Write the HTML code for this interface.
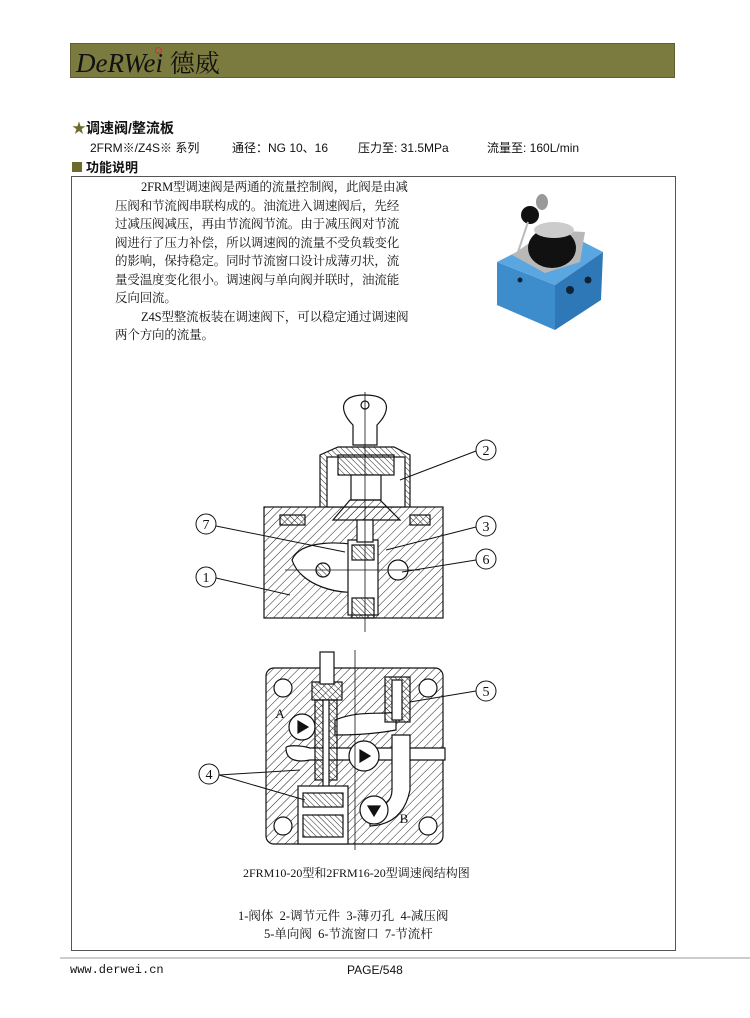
<!DOCTYPE html>
<html><head><meta charset="utf-8"><style>
body{margin:0;width:750px;height:1018px;background:#fff;position:relative;overflow:hidden;font-family:"Liberation Sans","Noto Sans CJK SC",sans-serif}
.a{position:absolute;white-space:nowrap}
.p{position:absolute;left:115px;font-family:"Liberation Serif","Noto Serif CJK SC",serif;font-size:12.5px;letter-spacing:-0.15px;color:#111;line-height:16px}
</style></head><body>
<div class="a" style="left:70px;top:43px;width:605px;height:35px;background:#7b7a3f;border:1px solid #5f5e2e;box-sizing:border-box"></div>
<div class="a" style="left:76px;top:44px;font-family:'Liberation Serif',serif;font-style:italic;font-size:27px;color:#111">DeRWei <span style="font-family:'Noto Serif CJK SC',serif;font-style:normal;font-size:25px">德威</span></div>
<div class="a" style="left:155px;top:47px;width:5px;height:5px;border:1px solid #c33;border-radius:50%"></div>
<div class="a" style="left:72px;top:118px;font-size:14px;font-weight:bold;color:#111"><span style="color:#6d6b2c">★</span>调速阀/整流板</div>
<div class="a" style="left:90px;top:139px;font-size:12px;color:#111">2FRM※/Z4S※ 系列</div>
<div class="a" style="left:232px;top:139px;font-size:12px;color:#111">通径：NG 10、16</div>
<div class="a" style="left:358px;top:139px;font-size:12px;color:#111">压力至: 31.5MPa</div>
<div class="a" style="left:487px;top:139px;font-size:12px;color:#111">流量至: 160L/min</div>
<div class="a" style="left:72px;top:157px;font-size:13px;font-weight:bold;color:#111"><span style="display:inline-block;width:10px;height:10px;background:#6d6b2c;margin-right:4px"></span>功能说明</div>
<div class="a" style="left:71px;top:176px;width:605px;height:775px;border:1px solid #555;box-sizing:border-box"></div>
<div class="p" style="top:179px;left:141px">2FRM型调速阀是两通的流量控制阀，此阀是由减</div>
<div class="p" style="top:198px">压阀和节流阀串联构成的。油流进入调速阀后，先经</div>
<div class="p" style="top:216px">过减压阀减压，再由节流阀节流。由于减压阀对节流</div>
<div class="p" style="top:235px">阀进行了压力补偿，所以调速阀的流量不受负载变化</div>
<div class="p" style="top:253px">的影响，保持稳定。同时节流窗口设计成薄刃状，流</div>
<div class="p" style="top:272px">量受温度变化很小。调速阀与单向阀并联时，油流能</div>
<div class="p" style="top:290px">反向回流。</div>
<div class="p" style="top:309px;left:141px">Z4S型整流板装在调速阀下，可以稳定通过调速阀</div>
<div class="p" style="top:327px">两个方向的流量。</div>

<svg class="a" style="left:0;top:0" width="750" height="1018">
<defs><pattern id="h" width="6" height="6" patternUnits="userSpaceOnUse" patternTransform="rotate(45)"><line x1="0" y1="0" x2="0" y2="6" stroke="#222" stroke-width="1"/></pattern>
<pattern id="h2" width="4" height="4" patternUnits="userSpaceOnUse" patternTransform="rotate(-45)"><line x1="0" y1="0" x2="0" y2="4" stroke="#222" stroke-width="1"/></pattern></defs>
<!-- photo -->
<g>
<polygon points="497,262 555,285 555,330 497,305" fill="#3d8ccc"/>
<polygon points="555,285 603,252 601,300 555,330" fill="#2f78b8"/>
<polygon points="497,262 560,230 603,252 555,285" fill="#5aa6e0"/>
<polygon points="512,255 548,230 585,232 580,262 545,273" fill="#b8b8b8"/>
<ellipse cx="552" cy="248" rx="24" ry="20" fill="#111"/>
<ellipse cx="554" cy="230" rx="20" ry="8" fill="#ccc"/>
<circle cx="530" cy="215" r="9" fill="#111"/>
<ellipse cx="542" cy="202" rx="6" ry="8" fill="#999"/>
<line x1="528" y1="222" x2="518" y2="252" stroke="#bbb" stroke-width="2"/>
<circle cx="570" cy="290" r="4" fill="#123"/><circle cx="588" cy="280" r="3.5" fill="#123"/>
<circle cx="520" cy="280" r="2.5" fill="#123"/>
</g>
<!-- top drawing -->
<g stroke="#111" stroke-width="1.2" fill="none">
<rect x="264" y="507" width="179" height="111" fill="url(#h)"/>
<path d="M292,560 C300,540 340,540 372,548 L372,590 C340,598 300,585 292,560Z" fill="#fff"/>
<circle cx="323" cy="570" r="7" fill="url(#h2)"/>
<circle cx="398" cy="570" r="10" fill="#fff"/>
<rect x="348" y="540" width="30" height="75" fill="#fff"/>
<rect x="352" y="545" width="22" height="15" fill="url(#h2)"/>
<rect x="352" y="598" width="22" height="20" fill="url(#h2)"/>
<path d="M320,507 L320,455 L338,447 L394,447 L410,455 L410,507" fill="url(#h2)"/>
<rect x="327" y="457" width="78" height="50" fill="#fff"/>
<rect x="338" y="455" width="56" height="20" fill="url(#h2)"/>
<rect x="351" y="475" width="30" height="25" fill="#fff"/>
<path d="M333,520 L350,500 L380,500 L400,520Z" fill="url(#h)"/>
<rect x="357" y="520" width="16" height="22" fill="#fff"/>
<path d="M353,445 L353,425 C338,410 340,395 365,395 C390,395 392,410 377,425 L377,445Z" fill="#fff"/>
<circle cx="365" cy="405" r="4"/>
<rect x="280" y="515" width="25" height="10" fill="url(#h2)"/>
<rect x="410" y="515" width="20" height="10" fill="url(#h2)"/>
</g>
<g stroke="#111" stroke-width="0.8"><line x1="365" y1="392" x2="365" y2="632"/><line x1="285" y1="570" x2="420" y2="570"/></g>
<!-- bottom drawing -->
<g stroke="#111" stroke-width="1.2" fill="none">
<rect x="266" y="668" width="177" height="176" rx="8" fill="url(#h)"/>
<circle cx="283" cy="688" r="9" fill="#fff"/><circle cx="428" cy="688" r="9" fill="#fff"/>
<circle cx="283" cy="826" r="9" fill="#fff"/><circle cx="428" cy="826" r="9" fill="#fff"/>
<path d="M286,748 C286,745 300,745 310,748 L445,748 L445,760 L310,760 C300,762 286,762 286,748Z" fill="#fff"/>
<path d="M335,720 C360,710 380,715 396,712 L396,730 C380,733 360,735 335,735Z" fill="#fff"/>
<path d="M392,735 L410,735 L410,790 C405,815 390,825 370,826 L370,808 C385,808 392,800 392,790Z" fill="#fff"/>
<circle cx="302" cy="727" r="13" fill="#fff"/><polygon points="298,721 298,733 308,727" fill="#111"/>
<circle cx="364" cy="756" r="15" fill="#fff"/><polygon points="360,750 360,762 370,756" fill="#111"/>
<circle cx="374" cy="810" r="14" fill="#fff"/><polygon points="368,806 380,806 374,816" fill="#111"/>
<rect x="312" y="682" width="30" height="18" fill="url(#h2)"/>
<rect x="320" y="652" width="14" height="32" fill="#fff"/>
<rect x="315" y="700" width="22" height="80" fill="url(#h2)"/>
<rect x="323" y="700" width="6" height="90" fill="#fff"/>
<rect x="298" y="786" width="50" height="58" fill="#fff"/>
<rect x="303" y="793" width="40" height="14" fill="url(#h2)"/>
<rect x="303" y="815" width="40" height="22" fill="url(#h2)"/>
<rect x="385" y="677" width="25" height="45" fill="url(#h2)"/>
<rect x="392" y="680" width="10" height="40" fill="#fff"/>
</g>
<g stroke="#111" stroke-width="0.8"><line x1="355" y1="650" x2="355" y2="850"/></g>
<!-- leaders & callouts -->
<g stroke="#111" stroke-width="1" fill="#fff">
<line x1="400" y1="480" x2="476" y2="451"/><line x1="386" y1="550" x2="476" y2="527"/><line x1="402" y1="572" x2="476" y2="560"/>
<line x1="216" y1="526" x2="345" y2="552"/><line x1="216" y1="578" x2="290" y2="595"/>
<line x1="410" y1="702" x2="476" y2="691"/><line x1="219" y1="775" x2="300" y2="770"/><line x1="219" y1="775" x2="305" y2="800"/>
<circle cx="486" cy="450" r="10"/><circle cx="486" cy="526" r="10"/><circle cx="486" cy="559" r="10"/>
<circle cx="206" cy="524" r="10"/><circle cx="206" cy="577" r="10"/><circle cx="486" cy="691" r="10"/><circle cx="209" cy="774" r="10"/>
</g>
<g font-family="Liberation Serif,serif" font-size="14" text-anchor="middle" fill="#111">
<text x="486" y="455">2</text><text x="486" y="531">3</text><text x="486" y="564">6</text><text x="206" y="529">7</text><text x="206" y="582">1</text><text x="486" y="696">5</text><text x="209" y="779">4</text>
<text x="280" y="718" font-size="13">A</text><text x="404" y="823" font-size="13">B</text>
</g>
<line x1="60" y1="958" x2="750" y2="958" stroke="#999" stroke-width="1"/>
</svg>
<div class="a" style="left:243px;top:864px;font-family:'Liberation Serif','Noto Serif CJK SC',serif;font-size:12px;color:#111">2FRM10-20型和2FRM16-20型调速阀结构图</div>
<div class="a" style="left:238px;top:906px;font-family:'Liberation Serif','Noto Serif CJK SC',serif;font-size:12.5px;color:#111">1-阀体&nbsp; 2-调节元件&nbsp; 3-薄刃孔&nbsp; 4-减压阀</div>
<div class="a" style="left:264px;top:924px;font-family:'Liberation Serif','Noto Serif CJK SC',serif;font-size:12.5px;color:#111">5-单向阀&nbsp; 6-节流窗口&nbsp; 7-节流杆</div>
<div class="a" style="left:70px;top:963px;font-family:'Liberation Mono',monospace;font-size:12px;color:#111">www.derwei.cn</div>
<div class="a" style="left:347px;top:963px;font-size:12px;color:#111">PAGE/548</div>
</body></html>
